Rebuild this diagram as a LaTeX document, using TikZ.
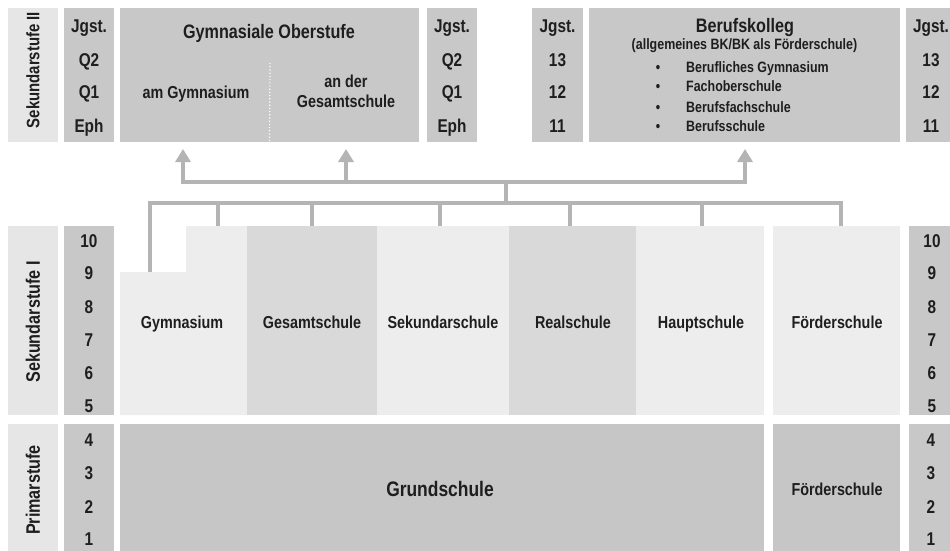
\documentclass[tikz,border=0pt]{standalone}
\usepackage{fontspec}
\setmainfont{Liberation Sans}[FakeStretch=0.83]
\usetikzlibrary{arrows.meta}
\definecolor{lbl}{HTML}{E6E6E6}
\definecolor{col}{HTML}{C8C8C8}
\definecolor{lt}{HTML}{EDEDED}
\definecolor{md}{HTML}{D9D9D9}
\definecolor{dk}{HTML}{C6C6C6}
\definecolor{ln}{HTML}{B4B4B4}
\definecolor{tx}{HTML}{1E1E1E}
\newcommand\fsz[1]{\fontsize{#1}{#1}\selectfont}
\begin{document}
\begin{tikzpicture}[x=1pt,y=-1pt,
  blk/.style n args={2}{minimum width=#1pt, minimum height=#2pt, inner sep=0pt, outer sep=0pt, draw=none},
  tcol/.style={inner sep=0pt, anchor=base, text=tx, font=\bfseries\fsz{18.5}},
  tname/.style={inner sep=0pt, anchor=base, text=tx, font=\bfseries\fsz{17.3}},
  thead/.style={inner sep=0pt, anchor=base, text=tx, font=\bfseries\fsz{19.5}},
  tsm/.style={inner sep=0pt, anchor=base, text=tx, font=\bfseries\fsz{15}},
  vlab/.style={inner sep=0pt, anchor=center, rotate=90, text=tx, font=\bfseries\fsz{#1}},
  conn/.style={draw=ln, line width=3.3pt, line join=miter},
  arr/.style={conn, -{Triangle[length=13pt,width=15pt]}}]
\useasboundingbox (0,0) rectangle (950,551);
\fill[white] (0,0) rectangle (950,551);

% ---------- Sekundarstufe II ----------
\node[blk={50}{134}, fill=lbl] (s2l) at (33,75) {};
\node[vlab=18] (s2t) at (33,70) {Sekundarstufe II};
\node[blk={50}{134}, fill=col] (jg1) at (89,75) {};
\node[blk={299}{134}, fill=col] (gymo) at (269.5,75) {};
\node[blk={50}{134}, fill=col] (jg2) at (452,75) {};
\node[blk={51}{134}, fill=col] (jg3) at (557.5,75) {};
\node[blk={311}{134}, fill=col] (bk) at (744.5,75) {};
\node[blk={50}{134}, fill=col] (jg4) at (931,75) {};

\foreach \xx/\nm in {89/a,452/b}{
  \node[tcol] (j\nm0) at (\xx,32.5) {Jgst.};
  \node[tcol] (j\nm1) at (\xx,66.5) {Q2};
  \node[tcol] (j\nm2) at (\xx,99) {Q1};
  \node[tcol] (j\nm3) at (\xx,132) {Eph};
}
\foreach \xx/\nm in {557.5/c,931/d}{
  \node[tcol] (j\nm0) at (\xx,32.5) {Jgst.};
  \node[tcol] (j\nm1) at (\xx,66.5) {13};
  \node[tcol] (j\nm2) at (\xx,99) {12};
  \node[tcol] (j\nm3) at (\xx,132) {11};
}
\node[thead] (gymot) at (269,39) {Gymnasiale Oberstufe};
\draw[white, dotted, line width=1.2pt] (270,63) -- (gymo.south);
\node[tname] (amg) at (196,98) {am Gymnasium};
\node[tname] (and1) at (346,87) {an der};
\node[tname] (and2) at (346,107) {Gesamtschule};

\node[thead] (bkt) at (745,33) {Berufskolleg};
\node[tsm] (bks) at (744.5,50) {(allgemeines BK/BK als Förderschule)};
\foreach \yy/\tt/\nm in {72/Berufliches Gymnasium/1, 92/Fachoberschule/2, 112/Berufsfachschule/3, 131/Berufsschule/4}{
  \node[tsm] (bu\nm) at (658,\yy) {\textbullet};
  \node[tsm, anchor=base west] (bi\nm) at (686,\yy) {\tt};
}

% ---------- Sekundarstufe I ----------
\node[blk={50}{189}, fill=lbl] (s1l) at (33,320.5) {};
\node[vlab=19.5] (s1t) at (33,322) {Sekundarstufe I};
\node[blk={50}{189}, fill=col] (jg5) at (89,320.5) {};
\node[blk={44}{189}, fill=col] (jg6) at (931,320.5) {};
\fill[lt] (120,272) -- (186,272) -- (186,226) -- (247,226) -- (247,415) -- (120,415) -- cycle;
\coordinate (gymstep) at (150,272);
\coordinate (gymtop) at (218,226);
\node[blk={130}{189}, fill=md] (gesamt) at (312,320.5) {};
\node[blk={132}{189}, fill=lt] (sekund) at (443,320.5) {};
\node[blk={127}{189}, fill=md] (real) at (572.5,320.5) {};
\node[blk={128}{189}, fill=lt] (haupt) at (700,320.5) {};
\node[blk={127}{189}, fill=lt] (foerd1) at (836.5,320.5) {};

\foreach \yy/\nn in {247/10,279/9,313/8,346/7,379/6,412/5}{
  \node[tcol] (l\nn) at (89,\yy) {\nn};
  \node[tcol] (r\nn) at (932,\yy) {\nn};
}
\node[tname] (gymnt) at (182,328) {Gymnasium};
\node[tname] (gesamtt) at (312,328) {Gesamtschule};
\node[tname] (sekundt) at (443,328) {Sekundarschule};
\node[tname] (realt) at (573,328) {Realschule};
\node[tname] (hauptt) at (701,328) {Hauptschule};
\node[tname] (foerd1t) at (837,328) {Förderschule};

% ---------- Primarstufe ----------
\node[blk={50}{127}, fill=lbl] (prl) at (33,487.5) {};
\node[vlab=19.5] (prt) at (33,490) {Primarstufe};
\node[blk={50}{127}, fill=col] (jg7) at (89,487.5) {};
\node[blk={644}{127}, fill=dk] (grund) at (442,487.5) {};
\node[blk={127}{127}, fill=dk] (foerd2) at (836.5,487.5) {};
\node[blk={44}{127}, fill=col] (jg8) at (931,487.5) {};
\foreach \yy/\nn in {446/4,479/3,513/2,545/1}{
  \node[tcol] (pl\nn) at (89,\yy) {\nn};
  \node[tcol] (pr\nn) at (931,\yy) {\nn};
}
\node[tcol, font=\bfseries\fsz{21}] (grundt) at (440,496) {Grundschule};
\node[tname] (foerd2t) at (837,495) {Förderschule};

% ---------- connectors ----------
\coordinate (hub) at (506,182);
\coordinate (hubl) at (506,203);
\coordinate (a1) at ([xshift=-86.5pt,yshift=-7pt]gymo.south);
\coordinate (a2) at ([xshift=76.5pt,yshift=-7pt]gymo.south);
\coordinate (a3) at ([xshift=0.5pt,yshift=-7pt]bk.south);
\draw[conn] (hubl) -- (hub);
\draw[arr] (hub) -| (a1);
\draw[arr] (hub) -| (a3);
\draw[arr] (a2 |- hub) -- (a2);

\coordinate (d3) at ([xshift=-3pt]sekund.north);
\coordinate (d4) at ([xshift=-2.5pt]real.north);
\coordinate (d5) at ([xshift=2pt]haupt.north);
\coordinate (d6) at ([xshift=4.5pt]foerd1.north);
\draw[conn] (gymstep) |- (d6 |- hubl) -- (d6);
\draw[conn] (gymtop |- hubl) -- (gymtop);
\draw[conn] (gesamt.north |- hubl) -- (gesamt.north);
\draw[conn] (d3 |- hubl) -- (d3);
\draw[conn] (d4 |- hubl) -- (d4);
\draw[conn] (d5 |- hubl) -- (d5);
\end{tikzpicture}
\end{document}
